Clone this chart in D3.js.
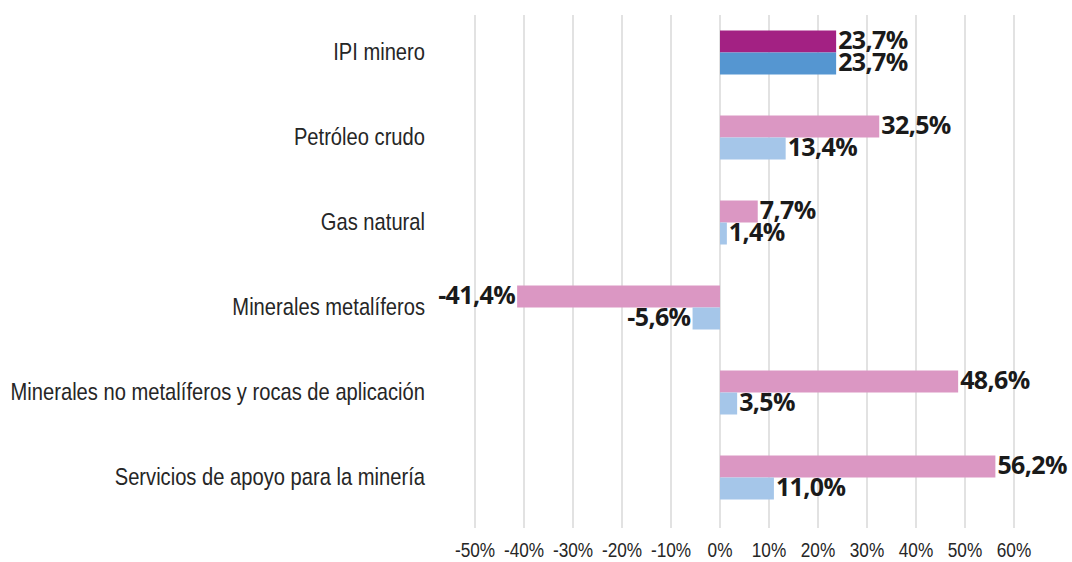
<!DOCTYPE html>
<html>
<head>
<meta charset="utf-8">
<script src="https://cdn.jsdelivr.net/npm/d3@7"></script>
<style>
  body { margin: 0; background: #fff; }
  svg { display: block; }
</style>
</head>
<body>
<div id="chart"></div>
<script>
const categories = [
  "IPI minero",
  "Petróleo crudo",
  "Gas natural",
  "Minerales metalíferos",
  "Minerales no metalíferos y rocas de aplicación",
  "Servicios de apoyo para la minería"
];
const serieA = [23.7, 32.5, 7.7, -41.4, 48.6, 56.2];
const serieB = [23.7, 13.4, 1.4, -5.6, 3.5, 11.0];
const ticks = [-50, -40, -30, -20, -10, 0, 10, 20, 30, 40, 50, 60];

const width = 1072, height = 562;
const colorsA = ["#a32183", "#db97c3"];
const colorsB = ["#5596d1", "#a5c6e9"];

const svg = d3.select("#chart")
  .append("svg")
  .attr("width", width)
  .attr("height", height);

const x = d3.scaleLinear()
  .domain([-50, 60])
  .range([475, 1014]);

const y = d3.scaleBand()
  .domain(categories)
  .range([10, 520]);

const barH = 22;
const narrow = "'Liberation Sans', Arial, sans-serif";

// squeeze text horizontally to mimic the condensed font of the original
function condense(sel, k) {
  sel.each(function () {
    const t = d3.select(this);
    const ax = +t.attr("x"), ay = +t.attr("y");
    t.attr("transform", `translate(${ax},${ay}) scale(${k},1) translate(${-ax},${-ay})`);
  });
}

// gridlines
svg.append("g")
  .selectAll("line")
  .data(ticks)
  .join("line")
  .attr("x1", d => x(d))
  .attr("x2", d => x(d))
  .attr("y1", 15)
  .attr("y2", 528)
  .attr("stroke", "#d9d9d9")
  .attr("stroke-width", 1.5);

// tick labels
svg.append("g")
  .selectAll("text")
  .data(ticks)
  .join("text")
  .attr("x", d => x(d))
  .attr("y", 552)
  .attr("text-anchor", "middle")
  .attr("dominant-baseline", "middle")
  .attr("font-family", narrow)
  .attr("font-size", 20.5)
  .attr("fill", "#262626")
  .text(d => d + "%")
  .call(condense, 0.84);

const rows = categories.map((c, i) => ({ c, i, a: serieA[i], b: serieB[i] }));

const g = svg.append("g")
  .selectAll("g")
  .data(rows)
  .join("g")
  .attr("transform", d => `translate(0,${y(d.c) + y.bandwidth() / 2})`);

g.append("rect")
  .attr("x", d => x(Math.min(0, d.a)))
  .attr("y", -barH)
  .attr("width", d => Math.abs(x(d.a) - x(0)))
  .attr("height", barH)
  .attr("fill", d => colorsA[d.i === 0 ? 0 : 1]);

g.append("rect")
  .attr("x", d => x(Math.min(0, d.b)))
  .attr("y", 0)
  .attr("width", d => Math.abs(x(d.b) - x(0)))
  .attr("height", barH)
  .attr("fill", d => colorsB[d.i === 0 ? 0 : 1]);

const fmt = v => v.toFixed(1).replace(".", ",") + "%";

function valueLabel(sel, key, dy) {
  sel.append("text")
    .attr("x", d => d[key] < 0 ? x(d[key]) - 2 : x(d[key]) + 2)
    .attr("y", dy)
    .attr("text-anchor", d => d[key] < 0 ? "end" : "start")
    .attr("dominant-baseline", "middle")
    .attr("font-family", "'Open Sans', sans-serif")
    .attr("font-weight", "bold")
    .attr("font-size", 25)
    .attr("letter-spacing", -0.6)
    .attr("fill", "#1a1a1a")
    .text(d => fmt(d[key]));
}
valueLabel(g, "a", -barH / 2 + 1);
valueLabel(g, "b", barH / 2 + 1);

// category labels
g.append("text")
  .attr("x", 425)
  .attr("y", 1)
  .attr("text-anchor", "end")
  .attr("dominant-baseline", "middle")
  .attr("font-family", narrow)
  .attr("font-size", 24)
  .attr("fill", "#262626")
  .text(d => d.c)
  .call(condense, 0.84);
</script>
</body>
</html>
